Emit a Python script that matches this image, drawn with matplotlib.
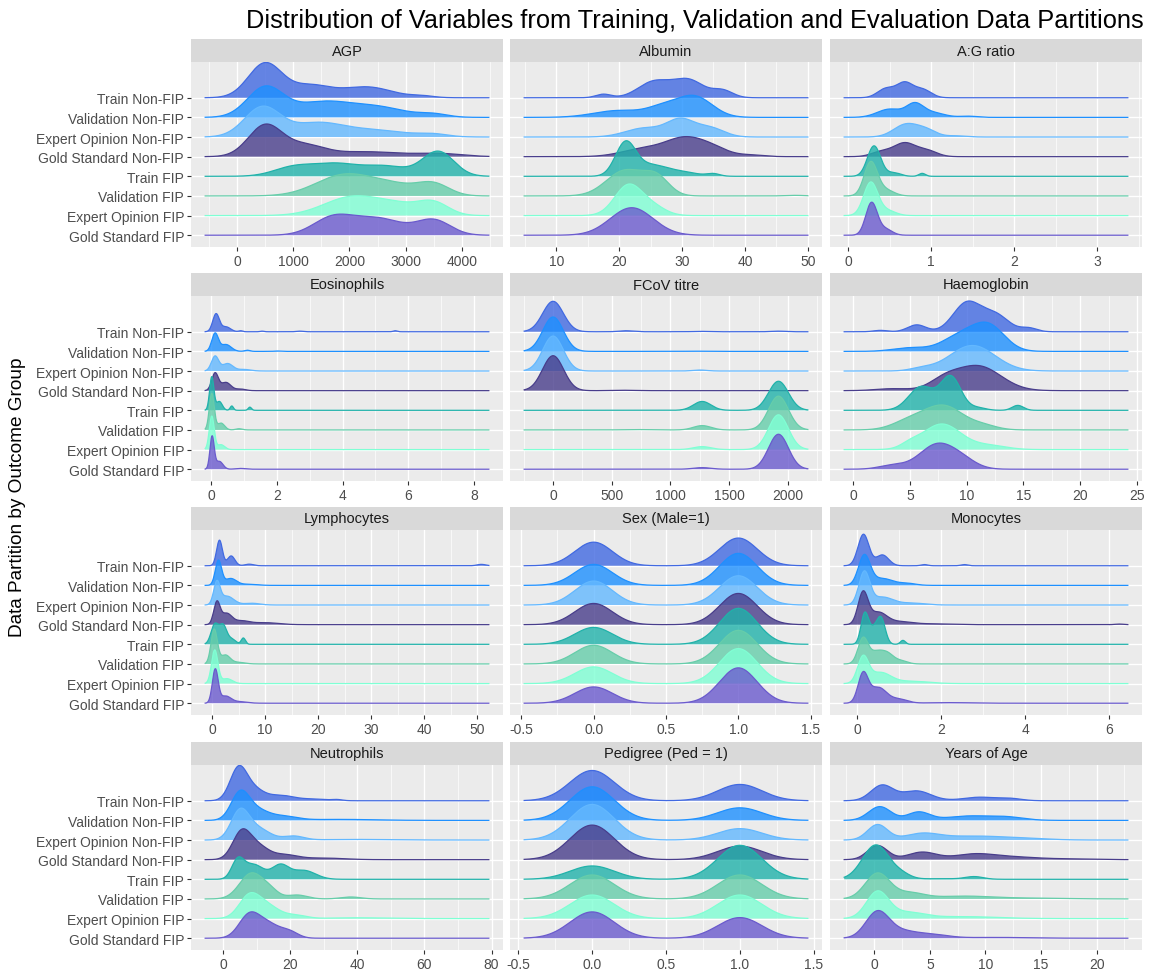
import numpy as np
import matplotlib.pyplot as plt

plt.rcParams['font.family'] = ['Liberation Sans', 'DejaVu Sans']
plt.rcParams['axes.unicode_minus'] = False

groups = ['Train Non-FIP', 'Validation Non-FIP', 'Expert Opinion Non-FIP', 'Gold Standard Non-FIP',
          'Train FIP', 'Validation FIP', 'Expert Opinion FIP', 'Gold Standard FIP']
colours = ['#4169E1', '#1E90FF', '#63B8FF', '#483D8B', '#20B2AA', '#66CDAA', '#7FFFD4', '#6A5ACD']

panels = ['AGP', 'Albumin', 'A:G ratio', 'Eosinophils', 'FCoV titre', 'Haemoglobin',
          'Lymphocytes', 'Sex (Male=1)', 'Monocytes', 'Neutrophils', 'Pedigree (Ped = 1)', 'Years of Age']

# range of the density estimate in each panel
x_ranges = [(-566, 4478), (4.9, 50), (-0.05, 3.37), (-0.18, 8.45), (-246, 2170), (-0.8, 24.2),
            (-1.3, 52.2), (-0.48, 1.48), (-0.31, 6.45), (-5.4, 79.2), (-0.46, 1.46), (-2.7, 22.8)]

x_ticks = [[0, 1000, 2000, 3000, 4000], [10, 20, 30, 40, 50], [0, 1, 2, 3], [0, 2, 4, 6, 8],
           [0, 500, 1000, 1500, 2000], [0, 5, 10, 15, 20, 25], [0, 10, 20, 30, 40, 50],
           [-0.5, 0, 0.5, 1, 1.5], [0, 2, 4, 6], [0, 20, 40, 60, 80],
           [-0.5, 0, 0.5, 1, 1.5], [0, 5, 10, 15, 20]]
x_labels = [['0', '1000', '2000', '3000', '4000'], ['10', '20', '30', '40', '50'], ['0', '1', '2', '3'],
            ['0', '2', '4', '6', '8'], ['0', '500', '1000', '1500', '2000'],
            ['0', '5', '10', '15', '20', '25'], ['0', '10', '20', '30', '40', '50'],
            ['-0.5', '0.0', '0.5', '1.0', '1.5'], ['0', '2', '4', '6'], ['0', '20', '40', '60', '80'],
            ['-0.5', '0.0', '0.5', '1.0', '1.5'], ['0', '5', '10', '15', '20']]

# ridge shapes, one list of (centre, spread, height) bumps per group
agp = [[(500, 300, 1.75), (1300, 350, 0.6), (2300, 450, 0.55), (3300, 200, 0.08)],
       [(500, 320, 1.5), (1500, 500, 0.75), (2500, 500, 0.5), (3500, 250, 0.15)],
       [(450, 320, 1.5), (1400, 450, 0.65), (2400, 600, 0.35), (3500, 250, 0.12)],
       [(500, 300, 1.58), (1200, 350, 0.55), (2300, 600, 0.25), (3600, 400, 0.15)],
       [(1000, 350, 0.45), (1750, 400, 0.6), (2650, 400, 0.5), (3580, 280, 1.25)],
       [(1900, 500, 1.05), (2800, 450, 0.5), (3500, 280, 0.55)],
       [(2050, 500, 0.95), (2900, 400, 0.45), (3500, 270, 0.6)],
       [(1700, 350, 0.85), (2500, 450, 0.85), (3500, 300, 0.75)]]
albumin = [[(17.5, 1.2, 0.18), (25.5, 2.5, 0.8), (31, 2.5, 0.9), (36.5, 1.6, 0.35)],
           [(20, 4, 0.35), (27, 2.5, 0.45), (32, 2.8, 1.05)],
           [(24, 3, 0.45), (29.8, 2.2, 0.85), (34.5, 2.2, 0.45)],
           [(24, 3.5, 0.4), (30.5, 3, 0.88), (35, 2.5, 0.35), (41, 2, 0.08)],
           [(21, 1.6, 1.65), (25, 2.5, 0.55), (30, 2.5, 0.2), (35, 1, 0.12)],
           [(21, 3, 1.3), (26, 2, 0.85), (48, 1.5, 0.03)],
           [(21.5, 2.2, 1.55), (25.5, 2, 0.4)],
           [(22, 3.4, 1.4)]]
ag_ratio = [[(0.45, 0.1, 0.45), (0.68, 0.1, 0.75), (0.9, 0.1, 0.4)],
            [(0.5, 0.15, 0.42), (0.8, 0.1, 0.6), (1.0, 0.15, 0.25), (1.45, 0.1, 0.06)],
            [(0.7, 0.15, 0.65), (0.95, 0.12, 0.3), (1.3, 0.12, 0.06)],
            [(0.4, 0.12, 0.25), (0.68, 0.13, 0.68), (0.95, 0.12, 0.3)],
            [(0.31, 0.08, 1.55), (0.55, 0.08, 0.18), (0.89, 0.04, 0.15)],
            [(0.27, 0.08, 1.7), (0.45, 0.1, 0.3)],
            [(0.27, 0.085, 1.68), (0.47, 0.1, 0.25)],
            [(0.28, 0.07, 1.65), (0.45, 0.08, 0.3)]]
eosinophils = [[(0.15, 0.1, 0.9), (0.45, 0.14, 0.25), (0.9, 0.06, 0.05), (1.55, 0.06, 0.03),
                (2.7, 0.1, 0.03), (5.6, 0.06, 0.05)],
               [(0.12, 0.1, 0.9), (0.45, 0.16, 0.35), (1.1, 0.08, 0.06), (2.0, 0.08, 0.02)],
               [(0.12, 0.11, 0.75), (0.5, 0.16, 0.38), (1.0, 0.2, 0.08)],
               [(0.12, 0.1, 0.88), (0.45, 0.15, 0.42), (0.9, 0.15, 0.08)],
               [(0.02, 0.065, 1.7), (0.25, 0.09, 0.45), (0.63, 0.05, 0.22), (1.18, 0.05, 0.16)],
               [(0.02, 0.075, 1.85), (0.3, 0.11, 0.35), (0.85, 0.1, 0.06)],
               [(0.02, 0.075, 1.7), (0.3, 0.11, 0.25)],
               [(0.03, 0.065, 1.65), (0.25, 0.11, 0.4), (0.9, 0.15, 0.04)]]
fcov = [[(0, 88, 1.55), (620, 60, 0.05), (1250, 60, 0.02), (1920, 60, 0.03)],
        [(0, 88, 1.75), (1200, 80, 0.01)],
        [(0, 88, 1.78), (1250, 60, 0.05)],
        [(0, 90, 1.78), (600, 100, 0.02)],
        [(1270, 75, 0.45), (1920, 85, 1.48)],
        [(700, 100, 0.02), (1270, 75, 0.22), (1920, 85, 1.72)],
        [(1270, 75, 0.15), (1920, 85, 1.77)],
        [(1270, 75, 0.08), (1920, 85, 1.78)]]
haemoglobin = [[(2.4, 0.6, 0.07), (5.6, 0.8, 0.35), (10, 1.2, 1.45), (12.5, 1.2, 0.85), (15.5, 0.7, 0.18)],
               [(5, 1.5, 0.18), (9.5, 1.6, 0.8), (12, 1.4, 1.2)],
               [(6, 1, 0.12), (10.5, 2.0, 1.3)],
               [(3.5, 1.5, 0.1), (8, 1.3, 0.45), (11, 2.0, 1.25)],
               [(6.0, 1.1, 1.2), (8.6, 0.9, 1.7), (11, 0.7, 0.12), (14.5, 0.5, 0.25)],
               [(5, 1.5, 0.45), (8, 1.7, 1.2), (11.5, 1.2, 0.2)],
               [(5, 0.8, 0.2), (7.8, 1.7, 1.3), (12, 1.5, 0.2)],
               [(3.5, 1.2, 0.2), (7.3, 1.5, 1.2), (9.5, 1.3, 0.45)]]
lymphocytes = [[(1.4, 0.55, 1.3), (3.6, 0.7, 0.5), (7, 0.8, 0.08), (50.8, 0.8, 0.07)],
               [(1.2, 0.6, 1.25), (3.5, 1.1, 0.35), (7, 1.5, 0.06)],
               [(0.9, 0.6, 1.1), (2.8, 1.3, 0.45), (7.5, 1.5, 0.09)],
               [(0.9, 0.6, 1.1), (2.7, 1.0, 0.55), (5.5, 1.5, 0.18), (10, 2.5, 0.1)],
               [(0.5, 0.7, 1.0), (2.1, 0.7, 0.95), (3.8, 0.7, 0.25), (5.9, 0.4, 0.32)],
               [(0.4, 0.6, 1.75), (2.5, 0.9, 0.45), (5, 1.2, 0.08)],
               [(0.5, 0.6, 1.7), (2.8, 1.0, 0.25)],
               [(0.6, 0.55, 1.7), (2.5, 1.0, 0.35), (5, 1.5, 0.08)]]
sex = [[(0, 0.13, 1.2), (1, 0.13, 1.41)],
       [(0, 0.13, 1.07), (1, 0.13, 1.63)],
       [(0, 0.13, 1.22), (1, 0.13, 1.49)],
       [(0, 0.13, 1.08), (1, 0.13, 1.59)],
       [(0, 0.13, 0.86), (1, 0.13, 1.83)],
       [(0, 0.13, 0.95), (1, 0.13, 1.71)],
       [(0, 0.13, 0.85), (1, 0.13, 1.78)],
       [(0, 0.13, 0.83), (1, 0.13, 1.8)]]
monocytes = [[(0.15, 0.13, 1.6), (0.6, 0.15, 0.55), (1.6, 0.08, 0.06), (2.55, 0.08, 0.06)],
             [(0.17, 0.14, 1.5), (0.6, 0.25, 0.35), (1.2, 0.2, 0.1)],
             [(0.17, 0.13, 1.65), (0.6, 0.25, 0.4), (1.3, 0.3, 0.1)],
             [(0.14, 0.12, 1.6), (0.5, 0.2, 0.6), (1.0, 0.3, 0.15), (1.8, 0.4, 0.04), (6.25, 0.1, 0.03)],
             [(0.18, 0.09, 1.55), (0.38, 0.1, 0.65), (0.57, 0.1, 1.3), (1.09, 0.06, 0.2)],
             [(0.14, 0.12, 1.3), (0.45, 0.15, 0.55), (0.72, 0.15, 0.5), (1.05, 0.15, 0.15)],
             [(0.14, 0.13, 1.3), (0.55, 0.25, 0.55), (1.3, 0.4, 0.12)],
             [(0.14, 0.12, 1.45), (0.5, 0.2, 0.8), (1.0, 0.2, 0.2), (2.2, 0.5, 0.03)]]
neutrophils = [[(4.5, 2.5, 1.6), (9, 3, 0.55), (17, 4, 0.27), (27, 4, 0.08), (34, 1.5, 0.05)],
               [(5, 2.7, 1.35), (10, 3.5, 0.5), (18, 4, 0.2), (35, 10, 0.05)],
               [(5, 2.7, 1.45), (10.5, 3.5, 0.55), (21, 3, 0.2), (40, 10, 0.03)],
               [(5.5, 2.7, 1.4), (10.5, 3, 0.6), (18, 4, 0.25), (30, 6, 0.08)],
               [(4.3, 1.8, 0.9), (9, 3, 0.75), (17, 2.5, 0.7), (24, 3.5, 0.45)],
               [(8.4, 3.5, 1.3), (14, 2.5, 0.35), (22, 3, 0.2), (38, 3, 0.1)],
               [(7.5, 3, 0.95), (12.5, 4, 0.7), (22, 3, 0.15), (40, 8, 0.04)],
               [(7.5, 3, 1.0), (13, 4, 0.75), (20, 2.5, 0.25)]]
pedigree = [[(0, 0.15, 1.54), (1, 0.15, 0.83)],
            [(0, 0.15, 1.71), (1, 0.15, 0.64)],
            [(0, 0.15, 1.81), (1, 0.15, 0.58)],
            [(0, 0.15, 1.76), (1, 0.15, 0.69)],
            [(0, 0.15, 0.68), (1, 0.15, 1.73)],
            [(0, 0.15, 1.22), (1, 0.15, 1.22)],
            [(0, 0.15, 1.2), (1, 0.15, 1.2)],
            [(0, 0.15, 1.34), (1, 0.15, 1.05)]]
age = [[(0.7, 1.0, 0.78), (3.8, 1.3, 0.5), (9.5, 1.5, 0.18), (12.3, 1.0, 0.1)],
       [(0.5, 1.0, 0.7), (4, 1.0, 0.42), (8.5, 2, 0.22), (12, 1.5, 0.15)],
       [(0.3, 0.9, 0.78), (4.3, 1.5, 0.3), (9, 3, 0.2), (14, 2, 0.05)],
       [(0.3, 0.9, 0.72), (4.3, 1.3, 0.38), (9, 1.8, 0.28), (12.5, 2, 0.12), (17, 2.5, 0.04)],
       [(0.15, 1.2, 1.75), (2.5, 0.8, 0.2), (6, 2, 0.03), (9, 0.8, 0.13)],
       [(0.3, 1.1, 1.3), (3.2, 1.3, 0.3), (8, 2.5, 0.14), (14, 3, 0.04)],
       [(0.3, 1.0, 1.35), (3, 1.5, 0.3), (8, 3, 0.1)],
       [(0.3, 1.05, 1.35), (2.5, 1.2, 0.3), (5, 1.5, 0.2), (11, 3, 0.04)]]

ridges = [agp, albumin, ag_ratio, eosinophils, fcov, haemoglobin,
          lymphocytes, sex, monocytes, neutrophils, pedigree, age]


def ridge(x, bumps):
    y = np.zeros_like(x)
    for mu, sd, h in bumps:
        y += h * np.exp(-0.5 * ((x - mu) / sd) ** 2)
    return y


W, H = 1160, 970
fig = plt.figure(figsize=(W / 100, H / 100), dpi=100)

col_left = [191, 510, 830]
panel_w = 312
strip_top = [40, 274, 508, 743]
strip_h = 23
panel_h = 185

for k, name in enumerate(panels):
    r, c = divmod(k, 3)
    top = strip_top[r] + strip_h
    ax = fig.add_axes([col_left[c] / W, 1 - (top + panel_h) / H, panel_w / W, panel_h / H])
    st = fig.add_axes([col_left[c] / W, 1 - top / H, panel_w / W, strip_h / H])
    st.set_facecolor('#D9D9D9')
    st.set_xticks([])
    st.set_yticks([])
    for s in st.spines.values():
        s.set_visible(False)
    st.text(0.5, 0.5, name, ha='center', va='center', fontsize=10.5, color='#1A1A1A',
            transform=st.transAxes)

    ax.set_facecolor('#EBEBEB')
    for s in ax.spines.values():
        s.set_visible(False)

    lo, hi = x_ranges[k]
    pad = 0.05 * (hi - lo)
    ax.set_xlim(lo - pad, hi + pad)
    ax.set_ylim(0.4, 9.82)

    ticks = x_ticks[k]
    step = ticks[1] - ticks[0]
    minor = [ticks[0] - step / 2] + [t + step / 2 for t in ticks]
    for m in minor:
        ax.axvline(m, color='white', lw=0.5, zorder=0.5)
    for t in ticks:
        ax.axvline(t, color='white', lw=1.0, zorder=0.6)
    for yy in range(1, 9):
        ax.axhline(yy, color='white', lw=1.0, zorder=0.6)

    x = np.linspace(lo, hi, 800)
    for i, g in enumerate(groups):
        base = 8 - i
        y = ridge(x, ridges[k][i])
        ax.fill_between(x, base, base + y, facecolor=colours[i], alpha=0.8, lw=0, zorder=2 + i)
        ax.plot(x, base + y, color=colours[i], lw=0.9, zorder=2 + i)

    ax.set_xticks(ticks)
    ax.set_xticklabels(x_labels[k])
    ax.tick_params(axis='x', length=3, width=0.8, color='#333333', labelsize=10,
                   labelcolor='#4D4D4D', pad=2)
    ax.set_yticks(range(1, 9))
    if c == 0:
        ax.set_yticklabels(groups[::-1])
        ax.tick_params(axis='y', length=3, width=0.8, color='#333333', labelsize=10,
                       labelcolor='#4D4D4D', pad=2)
    else:
        ax.set_yticklabels([])
        ax.tick_params(axis='y', length=0)

fig.text(695 / W, 1 - 21 / H, 'Distribution of Variables from Training, Validation and Evaluation Data Partitions',
         ha='center', va='center', fontsize=18.3, color='black')
fig.text(18 / W, 1 - 497 / H, 'Data Partition by Outcome Group', rotation=90,
         ha='center', va='center', fontsize=13.7, color='black')

fig.savefig('out.png', dpi=100)
